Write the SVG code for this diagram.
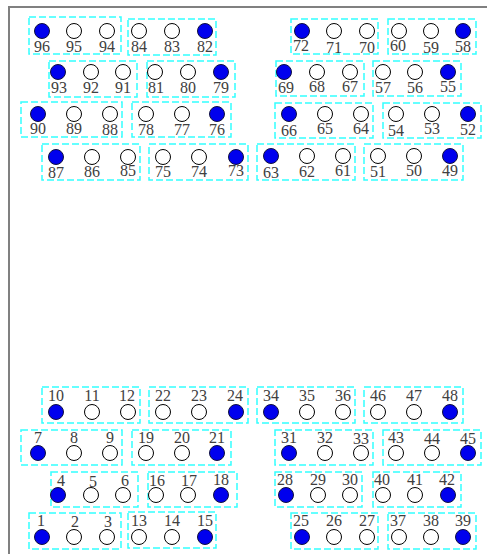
<svg xmlns="http://www.w3.org/2000/svg" width="487" height="554" viewBox="0 0 487 554">
<style>
.bg{fill:#ffffff}
.frame{fill:none;stroke:#808080;stroke-width:2}
.box{fill:none;stroke:#33ffff;stroke-width:1.5;stroke-dasharray:7 3}
.on{fill:#0000ee;stroke:#101040;stroke-width:1}
.off{fill:#ffffff;stroke:#000000;stroke-width:1}
text{font-family:"Liberation Serif","DejaVu Serif",serif;font-size:16px;fill:#404040;text-anchor:middle}
</style>
<rect class="bg" x="0" y="0" width="487" height="554"/>
<path class="frame" d="M9 554 V7 H487"/>

<!-- top row 1 -->
<g id="m96-94"><rect class="box" x="29" y="17" width="92" height="37"/>
<g id="p96"><circle class="on" cx="42" cy="31" r="7.5"/><text x="42" y="52">96</text></g>
<g id="p95"><circle class="off" cx="74" cy="31" r="7.5"/><text x="74" y="52">95</text></g>
<g id="p94"><circle class="off" cx="107" cy="31" r="7.5"/><text x="107" y="52">94</text></g></g>
<g id="m84-82"><rect class="box" x="128" y="19" width="88" height="36"/>
<g id="p84"><circle class="off" cx="139" cy="31" r="7.5"/><text x="139" y="52">84</text></g>
<g id="p83"><circle class="off" cx="172" cy="31" r="7.5"/><text x="172" y="52">83</text></g>
<g id="p82"><circle class="on" cx="205" cy="31" r="7.5"/><text x="205" y="52">82</text></g></g>
<g id="m72-70"><rect class="box" x="291" y="19" width="87" height="35"/>
<g id="p72"><circle class="on" cx="302" cy="31" r="7.5"/><text x="301" y="51">72</text></g>
<g id="p71"><circle class="off" cx="334" cy="31" r="7.5"/><text x="334" y="53">71</text></g>
<g id="p70"><circle class="off" cx="367" cy="31" r="7.5"/><text x="367" y="53">70</text></g></g>
<g id="m60-58"><rect class="box" x="388" y="19" width="88" height="35"/>
<g id="p60"><circle class="off" cx="399" cy="31" r="7.5"/><text x="398" y="51">60</text></g>
<g id="p59"><circle class="off" cx="431" cy="31" r="7.5"/><text x="431" y="53">59</text></g>
<g id="p58"><circle class="on" cx="463" cy="31" r="7.5"/><text x="463" y="52">58</text></g></g>

<!-- top row 2 -->
<g id="m93-91"><rect class="box" x="49" y="61" width="88" height="36"/>
<g id="p93"><circle class="on" cx="58" cy="72" r="7.5"/><text x="59" y="93">93</text></g>
<g id="p92"><circle class="off" cx="91" cy="72" r="7.5"/><text x="91" y="93">92</text></g>
<g id="p91"><circle class="off" cx="123" cy="72" r="7.5"/><text x="123" y="93">91</text></g></g>
<g id="m81-79"><rect class="box" x="147" y="61" width="88" height="36"/>
<g id="p81"><circle class="off" cx="155" cy="72" r="7.5"/><text x="156" y="93">81</text></g>
<g id="p80"><circle class="off" cx="188" cy="72" r="7.5"/><text x="188" y="93">80</text></g>
<g id="p79"><circle class="on" cx="221" cy="72" r="7.5"/><text x="221" y="93">79</text></g></g>
<g id="m69-67"><rect class="box" x="276" y="61" width="88" height="35"/>
<g id="p69"><circle class="on" cx="284" cy="72" r="7.5"/><text x="286" y="93">69</text></g>
<g id="p68"><circle class="off" cx="317" cy="72" r="7.5"/><text x="317" y="92">68</text></g>
<g id="p67"><circle class="off" cx="350" cy="72" r="7.5"/><text x="350" y="92">67</text></g></g>
<g id="m57-55"><rect class="box" x="373" y="61" width="88" height="35"/>
<g id="p57"><circle class="off" cx="383" cy="72" r="7.5"/><text x="383" y="93">57</text></g>
<g id="p56"><circle class="off" cx="415" cy="72" r="7.5"/><text x="415" y="93">56</text></g>
<g id="p55"><circle class="on" cx="448" cy="72" r="7.5"/><text x="448" y="92">55</text></g></g>

<!-- top row 3 -->
<g id="m90-88"><rect class="box" x="21" y="102" width="101" height="35"/>
<g id="p90"><circle class="on" cx="38" cy="114" r="7.5"/><text x="38" y="134">90</text></g>
<g id="p89"><circle class="off" cx="74" cy="114" r="7.5"/><text x="74" y="134">89</text></g>
<g id="p88"><circle class="off" cx="110" cy="114" r="7.5"/><text x="110" y="135">88</text></g></g>
<g id="m78-76"><rect class="box" x="132" y="102" width="99" height="35"/>
<g id="p78"><circle class="off" cx="146" cy="114" r="7.5"/><text x="146" y="135">78</text></g>
<g id="p77"><circle class="off" cx="182" cy="114" r="7.5"/><text x="182" y="135">77</text></g>
<g id="p76"><circle class="on" cx="217" cy="114" r="7.5"/><text x="217" y="135">76</text></g></g>
<g id="m66-64"><rect class="box" x="275" y="103" width="98" height="35"/>
<g id="p66"><circle class="on" cx="289" cy="114" r="7.5"/><text x="289" y="136">66</text></g>
<g id="p65"><circle class="off" cx="325" cy="114" r="7.5"/><text x="325" y="134">65</text></g>
<g id="p64"><circle class="off" cx="361" cy="114" r="7.5"/><text x="361" y="134">64</text></g></g>
<g id="m54-52"><rect class="box" x="383" y="103" width="98" height="35"/>
<g id="p54"><circle class="off" cx="396" cy="114" r="7.5"/><text x="396" y="136">54</text></g>
<g id="p53"><circle class="off" cx="432" cy="114" r="7.5"/><text x="432" y="134">53</text></g>
<g id="p52"><circle class="on" cx="468" cy="114" r="7.5"/><text x="468" y="135">52</text></g></g>

<!-- top row 4 -->
<g id="m87-85"><rect class="box" x="42" y="144" width="98" height="36"/>
<g id="p87"><circle class="on" cx="56" cy="157" r="7.5"/><text x="56" y="178">87</text></g>
<g id="p86"><circle class="off" cx="92" cy="157" r="7.5"/><text x="92" y="177">86</text></g>
<g id="p85"><circle class="off" cx="128" cy="157" r="7.5"/><text x="128" y="176">85</text></g></g>
<g id="m75-73"><rect class="box" x="149" y="144" width="99" height="36"/>
<g id="p75"><circle class="off" cx="163" cy="157" r="7.5"/><text x="163" y="177">75</text></g>
<g id="p74"><circle class="off" cx="199" cy="157" r="7.5"/><text x="199" y="177">74</text></g>
<g id="p73"><circle class="on" cx="236" cy="157" r="7.5"/><text x="236" y="176">73</text></g></g>
<g id="m63-61"><rect class="box" x="257" y="144" width="98" height="36"/>
<g id="p63"><circle class="on" cx="271" cy="156" r="7.5"/><text x="271" y="178">63</text></g>
<g id="p62"><circle class="off" cx="307" cy="156" r="7.5"/><text x="307" y="177">62</text></g>
<g id="p61"><circle class="off" cx="343" cy="156" r="7.5"/><text x="343" y="176">61</text></g></g>
<g id="m51-49"><rect class="box" x="364" y="144" width="99" height="36"/>
<g id="p51"><circle class="off" cx="378" cy="156" r="7.5"/><text x="378" y="177">51</text></g>
<g id="p50"><circle class="off" cx="414" cy="156" r="7.5"/><text x="414" y="176">50</text></g>
<g id="p49"><circle class="on" cx="450" cy="156" r="7.5"/><text x="450" y="176">49</text></g></g>

<!-- bottom row 1 -->
<g id="m10-12"><rect class="box" x="42" y="387" width="98" height="36"/>
<g id="p10"><circle class="on" cx="56" cy="412" r="7.5"/><text x="56" y="401">10</text></g>
<g id="p11"><circle class="off" cx="92" cy="412" r="7.5"/><text x="92" y="401">11</text></g>
<g id="p12"><circle class="off" cx="128" cy="412" r="7.5"/><text x="127" y="401">12</text></g></g>
<g id="m22-24"><rect class="box" x="149" y="387" width="99" height="36"/>
<g id="p22"><circle class="off" cx="163" cy="412" r="7.5"/><text x="163" y="401">22</text></g>
<g id="p23"><circle class="off" cx="199" cy="412" r="7.5"/><text x="199" y="401">23</text></g>
<g id="p24"><circle class="on" cx="236" cy="412" r="7.5"/><text x="235" y="401">24</text></g></g>
<g id="m34-36"><rect class="box" x="257" y="387" width="98" height="36"/>
<g id="p34"><circle class="on" cx="271" cy="412" r="7.5"/><text x="271" y="401">34</text></g>
<g id="p35"><circle class="off" cx="307" cy="412" r="7.5"/><text x="307" y="401">35</text></g>
<g id="p36"><circle class="off" cx="343" cy="412" r="7.5"/><text x="343" y="401">36</text></g></g>
<g id="m46-48"><rect class="box" x="364" y="387" width="99" height="36"/>
<g id="p46"><circle class="off" cx="378" cy="412" r="7.5"/><text x="378" y="401">46</text></g>
<g id="p47"><circle class="off" cx="414" cy="412" r="7.5"/><text x="414" y="401">47</text></g>
<g id="p48"><circle class="on" cx="450" cy="412" r="7.5"/><text x="450" y="401">48</text></g></g>

<!-- bottom row 2 -->
<g id="m7-9"><rect class="box" x="21" y="430" width="101" height="35"/>
<g id="p7"><circle class="on" cx="38" cy="453" r="7.5"/><text x="38" y="443">7</text></g>
<g id="p8"><circle class="off" cx="74" cy="453" r="7.5"/><text x="74" y="443">8</text></g>
<g id="p9"><circle class="off" cx="110" cy="453" r="7.5"/><text x="110" y="443">9</text></g></g>
<g id="m19-21"><rect class="box" x="132" y="430" width="99" height="35"/>
<g id="p19"><circle class="off" cx="146" cy="453" r="7.5"/><text x="146" y="443">19</text></g>
<g id="p20"><circle class="off" cx="182" cy="453" r="7.5"/><text x="182" y="443">20</text></g>
<g id="p21"><circle class="on" cx="217" cy="453" r="7.5"/><text x="217" y="443">21</text></g></g>
<g id="m31-33"><rect class="box" x="275" y="430" width="98" height="35"/>
<g id="p31"><circle class="on" cx="289" cy="453" r="7.5"/><text x="289" y="443">31</text></g>
<g id="p32"><circle class="off" cx="325" cy="453" r="7.5"/><text x="325" y="443">32</text></g>
<g id="p33"><circle class="off" cx="361" cy="453" r="7.5"/><text x="361" y="444">33</text></g></g>
<g id="m43-45"><rect class="box" x="383" y="430" width="98" height="35"/>
<g id="p43"><circle class="off" cx="396" cy="453" r="7.5"/><text x="396" y="443">43</text></g>
<g id="p44"><circle class="off" cx="432" cy="453" r="7.5"/><text x="432" y="444">44</text></g>
<g id="p45"><circle class="on" cx="468" cy="453" r="7.5"/><text x="468" y="444">45</text></g></g>

<!-- bottom row 3 -->
<g id="m4-6"><rect class="box" x="51" y="472" width="87" height="35"/>
<g id="p4"><circle class="on" cx="58" cy="495" r="7.5"/><text x="61" y="486">4</text></g>
<g id="p5"><circle class="off" cx="91" cy="495" r="7.5"/><text x="93" y="487">5</text></g>
<g id="p6"><circle class="off" cx="123" cy="495" r="7.5"/><text x="125" y="486">6</text></g></g>
<g id="m16-18"><rect class="box" x="148" y="472" width="89" height="35"/>
<g id="p16"><circle class="off" cx="156" cy="495" r="7.5"/><text x="157" y="486">16</text></g>
<g id="p17"><circle class="off" cx="188" cy="495" r="7.5"/><text x="189" y="486">17</text></g>
<g id="p18"><circle class="on" cx="221" cy="495" r="7.5"/><text x="221" y="485">18</text></g></g>
<g id="m28-30"><rect class="box" x="275" y="472" width="87" height="35"/>
<g id="p28"><circle class="on" cx="286" cy="495" r="7.5"/><text x="285" y="485">28</text></g>
<g id="p29"><circle class="off" cx="318" cy="495" r="7.5"/><text x="318" y="485">29</text></g>
<g id="p30"><circle class="off" cx="350" cy="495" r="7.5"/><text x="350" y="485">30</text></g></g>
<g id="m40-42"><rect class="box" x="373" y="472" width="88" height="35"/>
<g id="p40"><circle class="off" cx="383" cy="495" r="7.5"/><text x="382" y="485">40</text></g>
<g id="p41"><circle class="off" cx="415" cy="495" r="7.5"/><text x="415" y="485">41</text></g>
<g id="p42"><circle class="on" cx="448" cy="495" r="7.5"/><text x="447" y="485">42</text></g></g>

<!-- bottom row 4 -->
<g id="m1-3"><rect class="box" x="29" y="513" width="92" height="36"/>
<g id="p1"><circle class="on" cx="42" cy="537" r="7.5"/><text x="41" y="526">1</text></g>
<g id="p2"><circle class="off" cx="74" cy="537" r="7.5"/><text x="75" y="527">2</text></g>
<g id="p3"><circle class="off" cx="107" cy="537" r="7.5"/><text x="108" y="527">3</text></g></g>
<g id="m13-15"><rect class="box" x="128" y="512" width="88" height="36"/>
<g id="p13"><circle class="off" cx="139" cy="537" r="7.5"/><text x="139" y="526">13</text></g>
<g id="p14"><circle class="off" cx="172" cy="537" r="7.5"/><text x="172" y="526">14</text></g>
<g id="p15"><circle class="on" cx="205" cy="537" r="7.5"/><text x="205" y="526">15</text></g></g>
<g id="m25-27"><rect class="box" x="291" y="513" width="87" height="36"/>
<g id="p25"><circle class="on" cx="302" cy="537" r="7.5"/><text x="301" y="526">25</text></g>
<g id="p26"><circle class="off" cx="334" cy="537" r="7.5"/><text x="334" y="526">26</text></g>
<g id="p27"><circle class="off" cx="367" cy="537" r="7.5"/><text x="367" y="526">27</text></g></g>
<g id="m37-39"><rect class="box" x="388" y="513" width="88" height="36"/>
<g id="p37"><circle class="off" cx="399" cy="537" r="7.5"/><text x="398" y="526">37</text></g>
<g id="p38"><circle class="off" cx="431" cy="537" r="7.5"/><text x="431" y="526">38</text></g>
<g id="p39"><circle class="on" cx="463" cy="537" r="7.5"/><text x="463" y="526">39</text></g></g>
</svg>
